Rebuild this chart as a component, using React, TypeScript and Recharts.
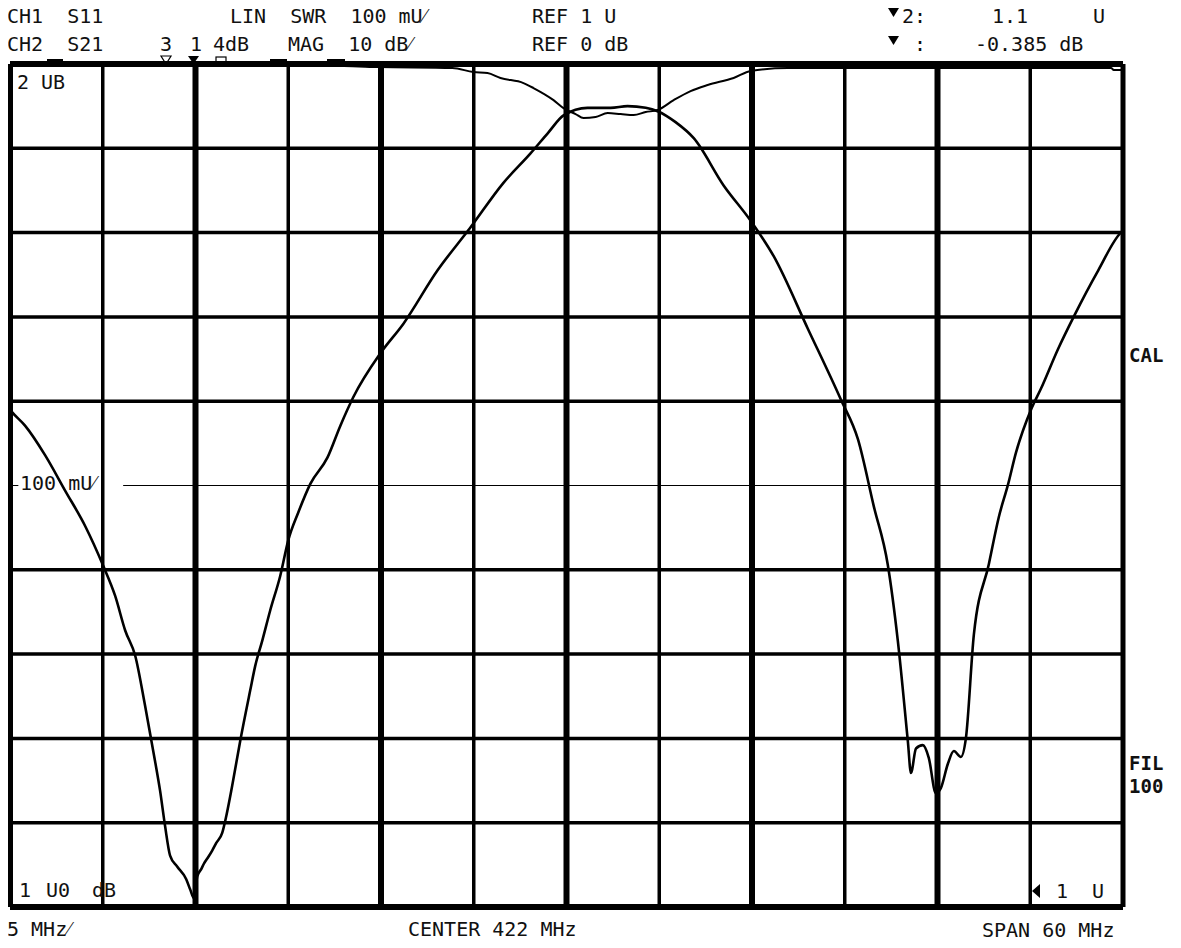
import React from 'react';
import { LineChart, Line, XAxis, YAxis, ReferenceLine } from 'recharts';

// frequency (MHz) / SWR readings for CH1 S11
const swrFreq = [
  392.0, 392.11, 392.81, 393.89, 394.97, 396.05, 397.02, 397.67, 398.21, 398.75, 399.28, 399.82,
  400.09, 400.36, 400.63, 401.01, 401.5, 401.71, 401.93, 402.09, 402.31, 402.47, 402.68, 402.9,
  403.12, 403.44, 403.66, 403.98, 404.41, 404.95, 405.22, 405.6, 406.03, 406.57, 407.0, 407.54,
  408.19, 409.11, 409.81, 410.51, 411.97, 413.21, 415.04, 416.82, 418.6, 420.06, 421.03, 421.84,
  423.13, 424.38, 425.29, 426.27, 426.91, 427.88, 428.86, 430.47, 431.93, 433.17, 435.01, 436.79,
  437.71, 438.57, 439.32, 439.86, 440.4, 440.57, 440.84, 441.21, 441.53, 441.91, 442.18, 442.56,
  442.88, 443.26, 443.53, 443.96, 444.77, 445.31, 445.8, 446.23, 447.04, 447.58, 448.5, 449.36,
  450.66, 451.89, 452.0,
];
const swrValue = [
  1.59, 1.587, 1.571, 1.536, 1.494, 1.452, 1.405, 1.369, 1.328, 1.298, 1.239, 1.173,
  1.138, 1.096, 1.061, 1.048, 1.033, 1.021, 1.01, 1.036, 1.045, 1.052, 1.059, 1.067,
  1.076, 1.088, 1.108, 1.144, 1.197, 1.257, 1.286, 1.316, 1.352, 1.393, 1.435, 1.468,
  1.502, 1.533, 1.571, 1.605, 1.657, 1.692, 1.755, 1.806, 1.859, 1.894, 1.919, 1.939,
  1.948, 1.948, 1.95, 1.948, 1.944, 1.931, 1.912, 1.856, 1.814, 1.772, 1.686, 1.602,
  1.555, 1.475, 1.406, 1.316, 1.197, 1.159, 1.188, 1.192, 1.177, 1.135, 1.141, 1.17,
  1.185, 1.178, 1.2, 1.323, 1.407, 1.463, 1.501, 1.539, 1.59, 1.615, 1.662, 1.701,
  1.755, 1.8, 1.802,
];

// frequency (MHz) / magnitude (dB) readings for CH2 S21
const s21Freq = [
  392.0, 396.0, 400.0, 405.0, 410.0, 411.9, 415.85, 416.98, 417.74, 418.44, 419.68, 420.22,
  421.3, 421.84, 422.49, 422.92, 423.57, 424.22, 424.92, 425.62, 426.27, 426.91, 427.78, 428.69,
  429.61, 431.01, 431.93, 433.93, 437.33, 441.0, 445.42, 449.0, 451.36, 451.5, 452.0,
];
const s21Value = [
  -0.2, -0.2, -0.2, -0.2, -0.25, -0.36, -0.48, -0.95, -1.07, -1.66, -2.26, -2.85,
  -4.28, -5.23, -5.94, -6.41, -6.29, -5.82, -5.94, -6.06, -5.7, -5.46, -4.28, -3.21,
  -2.49, -1.66, -0.83, -0.48, -0.48, -0.48, -0.48, -0.48, -0.48, -0.7, -0.7,
];

const freqMajor = [402, 412, 422, 432, 442];
const freqMinor = [397, 407, 417, 427, 437, 447];
const swrGrid = [1.1, 1.2, 1.3, 1.4, 1.6, 1.7, 1.8, 1.9];

const swrData = swrFreq.map((f, i) => ({ f, v: swrValue[i] }));
const s21Data = s21Freq.map((f, i) => ({ f, v: s21Value[i] }));

const W = 1181;
const H = 948;
const mono = '"DejaVu Sans Mono", monospace';

const labels: { x: number; y: number; t: string; bold?: boolean }[] = [
  { x: 7, y: 23, t: 'CH1  S11' },
  { x: 230, y: 23, t: 'LIN  SWR  100 mU⁄' },
  { x: 532, y: 23, t: 'REF 1 U' },
  { x: 902, y: 23, t: '2:' },
  { x: 992, y: 23, t: '1.1' },
  { x: 1093, y: 23, t: 'U' },
  { x: 7, y: 51, t: 'CH2  S21' },
  { x: 160, y: 51, t: '3' },
  { x: 190, y: 51, t: '1' },
  { x: 213, y: 51, t: '4dB' },
  { x: 288, y: 51, t: 'MAG  10 dB⁄' },
  { x: 532, y: 51, t: 'REF 0 dB' },
  { x: 914, y: 51, t: ':' },
  { x: 975, y: 51, t: '-0.385 dB' },
  { x: 17, y: 89, t: '2 UB' },
  { x: 20, y: 490, t: '100 mU⁄' },
  { x: 19, y: 897, t: '1' },
  { x: 46, y: 897, t: 'U0' },
  { x: 92, y: 897, t: 'dB' },
  { x: 1056, y: 898, t: '1  U' },
  { x: 7, y: 936, t: '5 MHz⁄' },
  { x: 408, y: 936, t: 'CENTER 422 MHz' },
  { x: 982, y: 937, t: 'SPAN 60 MHz' },
  { x: 1129, y: 362, t: 'CAL', bold: true },
  { x: 1129, y: 770, t: 'FIL', bold: true },
  { x: 1129, y: 793, t: '100', bold: true },
];

const App: React.FC = () => {
  return (
    <div style={{ position: 'relative', width: W, height: H, margin: '-8px 0 0 -8px', background: '#fff' }}>
      {/* marker flags sitting on the top edge of the graticule */}
      <svg width={W} height={H} style={{ position: 'absolute', left: 0, top: 0 }}>
        <polygon points="161,56 171,56 166,64" fill="none" stroke="#000" strokeWidth={1.2} />
        <polygon points="188,56 199,56 193.5,64" fill="#000" />
        <rect x={216} y={57} width={10} height={8} fill="none" stroke="#000" strokeWidth={1.2} />
        <rect x={47} y={59} width={16} height={3} fill="#000" />
        <rect x={270} y={59} width={17} height={3} fill="#000" />
        <rect x={327} y={59} width={18} height={3} fill="#000" />
      </svg>
      <div style={{ position: 'absolute', left: 0, top: 0 }}>
        <LineChart
          width={W}
          height={H}
          margin={{ top: 64, left: 10, right: W - 1123, bottom: H - 907 }}
        >
          <XAxis dataKey="f" type="number" domain={[392, 452]} hide allowDuplicatedCategory={false} />
          <YAxis yAxisId="swr" domain={[1, 2]} hide />
          <YAxis yAxisId="s21" orientation="right" domain={[-100, 0]} hide />
          {swrGrid.map((y) => (
            <ReferenceLine key={'h' + y} yAxisId="swr" y={y} stroke="#000" strokeWidth={3.5} />
          ))}
          <ReferenceLine
            yAxisId="swr"
            segment={[{ x: 392, y: 1.5 }, { x: 392.45, y: 1.5 }]}
            stroke="#000"
            strokeWidth={1}
          />
          <ReferenceLine
            yAxisId="swr"
            segment={[{ x: 398.1, y: 1.5 }, { x: 452, y: 1.5 }]}
            stroke="#000"
            strokeWidth={1}
          />
          {freqMinor.map((x) => (
            <ReferenceLine key={'m' + x} yAxisId="swr" x={x} stroke="#000" strokeWidth={3.5} />
          ))}
          {freqMajor.map((x) => (
            <ReferenceLine key={'M' + x} yAxisId="swr" x={x} stroke="#000" strokeWidth={6} />
          ))}
          <ReferenceLine yAxisId="swr" x={392} stroke="#000" strokeWidth={6} />
          <ReferenceLine yAxisId="swr" x={452} stroke="#000" strokeWidth={5} />
          <ReferenceLine yAxisId="swr" y={2} stroke="#000" strokeWidth={6} />
          <ReferenceLine yAxisId="swr" y={1} stroke="#000" strokeWidth={6} />
          <Line
            yAxisId="s21"
            data={s21Data}
            dataKey="v"
            type="monotoneX"
            stroke="#000"
            strokeWidth={2}
            dot={false}
            isAnimationActive={false}
          />
          <Line
            yAxisId="swr"
            data={swrData}
            dataKey="v"
            type="monotoneX"
            stroke="#000"
            strokeWidth={2.6}
            dot={false}
            isAnimationActive={false}
          />
        </LineChart>
      </div>
      <svg width={W} height={H} style={{ position: 'absolute', left: 0, top: 0, pointerEvents: 'none' }}>
        {labels.map((l, i) => (
          <text
            key={i}
            x={l.x}
            y={l.y}
            fontFamily={mono}
            fontSize={l.bold ? 19 : 20}
            fontWeight={l.bold ? 'bold' : 'normal'}
            fill="#111"
            style={{ whiteSpace: 'pre' }}
            xmlSpace="preserve"
          >
            {l.t}
          </text>
        ))}
        <polygon points="888,8 899,8 893.5,17" fill="#000" />
        <polygon points="888,36 899,36 893.5,45" fill="#000" />
        <polygon points="1040,884 1040,898 1032,891" fill="#000" />
      </svg>
    </div>
  );
};

export default App;
